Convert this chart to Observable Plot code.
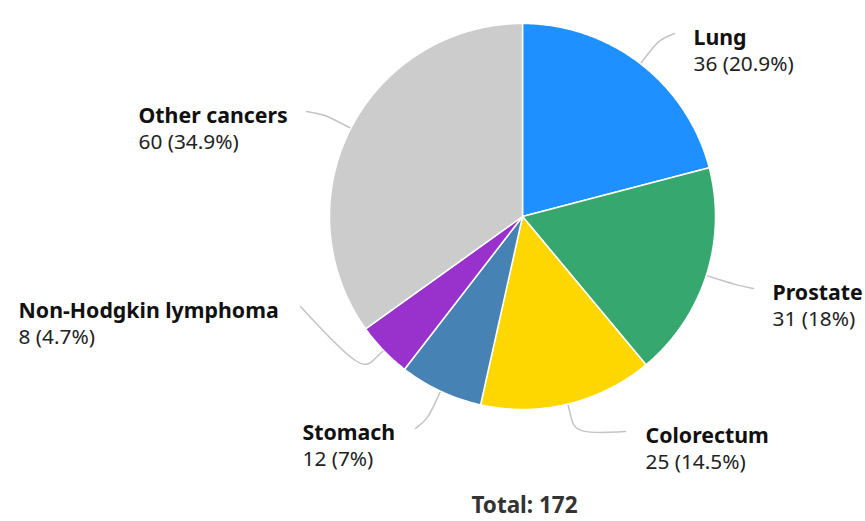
<!DOCTYPE html>
<html>
<head>
<meta charset="utf-8">
<script src="https://cdn.jsdelivr.net/npm/d3@7"></script>
<script src="https://cdn.jsdelivr.net/npm/@observablehq/plot@0.6"></script>
<style>
  html, body { margin: 0; padding: 0; background: #ffffff; }
  #chart svg { display: block; }
</style>
</head>
<body>
<div id="chart"></div>
<script>
// ---- data ----
const categories = ["Lung", "Prostate", "Colorectum", "Stomach", "Non-Hodgkin lymphoma", "Other cancers"];
const values = [36, 31, 25, 12, 8, 60];
const colors = ["#1e90ff", "#36a86f", "#ffd700", "#4682b4", "#9932cc", "#cccccc"];

// ---- layout (offsets from the pie centre; R = 193) ----
const R = 193;
const labelAnchors = [
  {ax: 152, ay: 183, tx: 171},
  {ax: 231, ay: -72, tx: 250},
  {ax: 103, ay: -215, tx: 123},
  {ax: -107, ay: -212, tx: -220},
  {ax: -222, ay: -90, tx: -504},
  {ax: -216, ay: 105, tx: -384}
];

const total = d3.sum(values);
const pie = d3.pie().sort(null).value(d => d)(values);

// slices as closed polygons
const slicePts = [];
pie.forEach((p, i) => {
  const cat = categories[i];
  slicePts.push({cat, x: 0, y: 0});
  const n = Math.max(2, Math.ceil((p.endAngle - p.startAngle) / (Math.PI / 360)));
  for (let k = 0; k <= n; k++) {
    const a = p.startAngle + (p.endAngle - p.startAngle) * k / n;
    slicePts.push({cat, x: R * Math.sin(a), y: R * Math.cos(a)});
  }
  slicePts.push({cat, x: 0, y: 0});
});

// connectors
const connPts = [];
pie.forEach((p, i) => {
  const cat = categories[i];
  const m = (p.startAngle + p.endAngle) / 2;
  const L = labelAnchors[i];
  [1.0, 1.07, 1.16].forEach(r => connPts.push({cat, x: R * r * Math.sin(m), y: R * r * Math.cos(m)}));
  connPts.push({cat, x: L.ax, y: L.ay});
});

const labels = categories.map((c, i) => ({
  name: c,
  value: `${values[i]} (${+(values[i] / total * 100).toFixed(1)}%)`,
  x: labelAnchors[i].tx,
  y: labelAnchors[i].ay
}));

const chart = Plot.plot({
  width: 865,
  height: 521,
  margin: 0,
  x: {domain: [-522, 343], axis: null},
  y: {domain: [-305, 216], axis: null},
  color: {domain: categories, range: colors},
  style: {fontFamily: "'Noto Sans', sans-serif", background: "#ffffff"},
  marks: [
    Plot.line(connPts, {x: "x", y: "y", z: "cat", curve: "basis", stroke: "#c4c4c4", strokeWidth: 1.5}),
    Plot.line(slicePts, {x: "x", y: "y", z: "cat", fill: "cat", stroke: "#ffffff", strokeWidth: 1.5, strokeLinejoin: "round"}),
    Plot.text(labels, {x: "x", y: d => d.y - 5, text: "name", textAnchor: "start", fontWeight: "bold", fontSize: 21.3, fill: "#111111"}),
    Plot.text(labels, {x: "x", y: d => d.y - 31, text: "value", textAnchor: "start", fontSize: 20.8, fill: "#222222"}),
    Plot.text([`Total: ${total}`], {x: 2, y: -289, text: d => d, textAnchor: "middle", fontWeight: "bold", fontSize: 22.5, fill: "#333333"})
  ]
});
document.getElementById("chart").appendChild(chart);
</script>
</body>
</html>
